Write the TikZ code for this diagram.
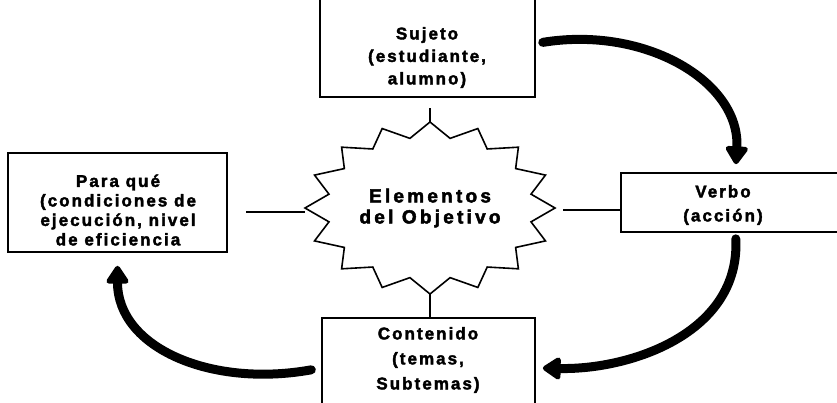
\documentclass[tikz,border=0pt]{standalone}
\usepackage{fontspec}
\usetikzlibrary{shapes.geometric,arrows.meta,calc}
\newfontfamily\lab[LetterSpace=12,FakeBold=2.2,UprightFont=* Bold,BoldFont=* Bold]{Liberation Sans}
\newfontfamily\labstar[LetterSpace=17,FakeBold=2.4,UprightFont=* Bold,BoldFont=* Bold]{Liberation Sans}
\begin{document}
\begin{tikzpicture}[x=1pt,y=-1pt,
  boxnode/.style={draw=black, line width=1.7pt, rectangle, inner sep=0pt},
  txt/.style={align=center, font=\lab\fontsize{17}{20}\selectfont, inner sep=0pt},
  thin/.style={draw=black, line width=1.8pt},
  bigarrow/.style={draw=black, line width=9pt, line cap=round,
    -{Triangle[width=25pt,length=20pt,round]}},
  starline/.style={draw=black, line width=1.6pt, line join=miter}
]
\useasboundingbox (0,0) rectangle (837,402);
\clip (0,0) rectangle (837,402);
\fill[white] (0,0) rectangle (837,402);

% boxes
\node[boxnode, minimum width=215pt, minimum height=107pt] (sujeto) at (427.5,43.5) {};
\node[txt, font=\lab\fontsize{17}{22.5}\selectfont] (sujetotxt) at (427,57.5) {Sujeto\\(estudiante,\\alumno)};

\node[boxnode, minimum width=219pt, minimum height=99pt] (para) at (117.5,202.5) {};
\node[txt, font=\lab\fontsize{17}{19.5}\selectfont] (paratxt) at (118,210) {Para qué\\(condiciones de\\ejecución, nivel\\de eficiencia};

\node[boxnode, minimum width=229pt, minimum height=59pt] (verbo) at (735.5,202.5) {};
\node[txt, font=\lab\fontsize{17}{24}\selectfont] (verbotxt) at (723,205) {Verbo\\(acción)};

\node[boxnode, minimum width=213pt, minimum height=100pt] (contenido) at (428.5,368) {};
\node[txt, font=\lab\fontsize{17}{25}\selectfont] (contenidotxt) at (428,360) {Contenido\\(temas,\\Subtemas)};

% star
\node[ellipse, minimum width=250pt, minimum height=172pt, inner sep=0pt,
      align=center, font=\labstar\fontsize{19}{21}\selectfont] (star) at (430,208) {Elementos\\del Objetivo};
\draw[starline] ($(star.center)+(0:125pt and 86pt)$)
  \foreach \i in {0,...,15} {
    -- ($(star.center)+(\i*22.5+11.25:103pt and 71pt)$)
    -- ($(star.center)+(\i*22.5+22.5:125pt and 86pt)$)
  } -- cycle;

% thin connectors
\draw[thin, shorten >=10pt] (star.north) -- (star.north |- sujeto.south);
\draw[thin] (star.south) -- (star.south |- contenido.north);
\draw[thin, shorten >=18pt] ($(star.west)+(0,4)$) -- ($(star.west -| para.east)+(0,4)$);
\draw[thin, shorten <=8pt] ($(star.east)+(0,2)$) -- ($(star.east -| verbo.west)+(0,2)$);

% thick curved arrows
\draw[bigarrow, shorten <=7pt, shorten >=8pt] (sujeto.east) .. controls +(110,-18) and +(5,-90) .. (verbo.north);
\draw[bigarrow, shorten <=6pt, shorten >=7pt] (verbo.south) .. controls +(5,100) and +(95,2) .. (contenido.east);
\draw[bigarrow, shorten <=10pt, shorten >=13pt] (contenido.west) .. controls +(-110,20) and +(0,95) .. (para.south);
\end{tikzpicture}
\end{document}
